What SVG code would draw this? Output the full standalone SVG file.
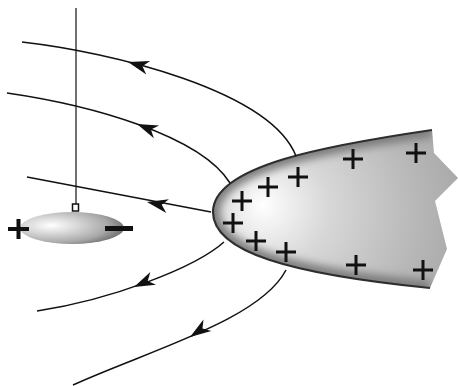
<svg xmlns="http://www.w3.org/2000/svg" width="458" height="386" viewBox="0 0 458 386">
  <style>
    .field { fill: none; stroke: #111; stroke-width: 1.5; }
    .thread { stroke: #111; stroke-width: 1.2; }
    .plus { stroke: #111; stroke-width: 3; fill: none; }
    .arrow { fill: #111; }
  </style>
  <defs>
    <radialGradient id="bodyShade" gradientUnits="userSpaceOnUse" cx="290" cy="215" r="190" fx="262" fy="205">
      <stop offset="0" stop-color="#ffffff"/>
      <stop offset="0.3" stop-color="#d8d8d8"/>
      <stop offset="0.7" stop-color="#b8b8b8"/>
      <stop offset="1" stop-color="#a4a4a4"/>
    </radialGradient>
    <radialGradient id="probeShade" cx="0.3" cy="0.42" r="0.72">
      <stop offset="0" stop-color="#ffffff"/>
      <stop offset="0.35" stop-color="#d8d8d8"/>
      <stop offset="0.75" stop-color="#a8a8a8"/>
      <stop offset="1" stop-color="#707070"/>
    </radialGradient>
    <filter id="soft" x="-20%" y="-20%" width="140%" height="140%">
      <feGaussianBlur stdDeviation="4"/>
    </filter>
    <clipPath id="bodyClip">
      <path d="M432,130 C330,145 213,165 213,212 C213,252 290,274 430,288 L447,249 L435,201 L458,178 L434,153 Z"/>
    </clipPath>
    <!-- swept-back arrowhead pointing along +x, tip at origin -->
    <path id="ah" d="M0,0 L-21,-7 L-15,0 L-21,7 Z"/>
    <path id="pl" d="M-10,0 H10 M0,-10 V10"/>
  </defs>

  <!-- charged conductor -->
  <g id="conductor">
    <path d="M432,130 C330,145 213,165 213,212 C213,252 290,274 430,288 L447,249 L435,201 L458,178 L434,153 Z" fill="url(#bodyShade)"/>
    <!-- darkened rim along the curved surface -->
    <g clip-path="url(#bodyClip)">
      <path d="M432,130 C330,145 213,165 213,212 C213,252 290,274 430,288" fill="none" stroke="#7c7c7c" stroke-width="14" filter="url(#soft)"/>
    </g>
    <path d="M432,130 C330,145 213,165 213,212 C213,252 290,274 430,288" fill="none" stroke="#2e2e2e" stroke-width="2.2"/>
    <g class="plus">
      <use href="#pl" x="353" y="159"/>
      <use href="#pl" x="416" y="153"/>
      <use href="#pl" x="298" y="177"/>
      <use href="#pl" x="268" y="187"/>
      <use href="#pl" x="242" y="201"/>
      <use href="#pl" x="233" y="223"/>
      <use href="#pl" x="256" y="241"/>
      <use href="#pl" x="286" y="252"/>
      <use href="#pl" x="356" y="265"/>
      <use href="#pl" x="423" y="270"/>
    </g>
  </g>

  <!-- field lines -->
  <g id="field-lines">
    <path class="field" d="M22,42 C110,52 270,90 296,156"/>
    <path class="field" d="M7,93 C90,105 200,135 230,183"/>
    <path class="field" d="M27,177 L211,212"/>
    <path class="field" d="M224,242 C195,268 110,300 37,311"/>
    <path class="field" d="M286,270 C260,320 150,350 73,385"/>
    <use class="arrow" href="#ah" transform="translate(128,62) rotate(196)"/>
    <use class="arrow" href="#ah" transform="translate(137,124) rotate(202)"/>
    <use class="arrow" href="#ah" transform="translate(147,202) rotate(191)"/>
    <use class="arrow" href="#ah" transform="translate(134,287) rotate(156)"/>
    <use class="arrow" href="#ah" transform="translate(190,337) rotate(146)"/>
  </g>

  <!-- suspended probe -->
  <g id="probe">
    <line class="thread" x1="76" y1="8" x2="76" y2="204"/>
    <rect x="72.5" y="204" width="6" height="7" fill="#fff" stroke="#111" stroke-width="1.5"/>
    <ellipse cx="72" cy="228" rx="52" ry="16" fill="url(#probeShade)"/>
    <path d="M8,229 H29 M18.5,219 V239" stroke="#111" stroke-width="4" fill="none"/>
    <path d="M105,228.5 H133" stroke="#111" stroke-width="5" fill="none"/>
  </g>
</svg>
